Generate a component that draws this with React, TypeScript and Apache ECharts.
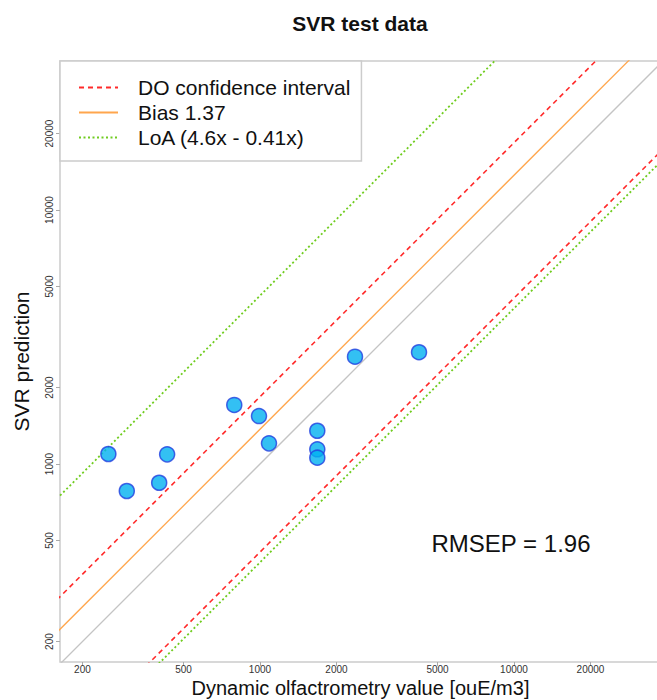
import React, { useEffect, useRef } from "react";
import * as echarts from "echarts";

// Dynamic olfactometry (x) vs SVR prediction (y)
const doValues = [253, 299, 401, 431, 792, 991, 1085, 1681, 1681, 1681, 2366, 4227];
const svrValues = [1095, 783, 844, 1092, 1708, 1545, 1206, 1352, 1143, 1059, 2645, 2755];

const identitySlope = 1;
const biasSlope = 1.37;
const doUpperSlope = 1.84;
const doLowerSlope = 0.45;
const loaUpperSlope = 4.6;
const loaLowerSlope = 0.41;

const tickValues = [200, 500, 1000, 2000, 5000, 10000, 20000];
const lineXRange = [100, 100000];

const FONT = "'Liberation Sans', Arial, sans-serif";

function lineData(k: number) {
  return lineXRange.map((x) => [x, x * k]);
}

export default function App() {
  const ref = useRef<HTMLDivElement>(null);
  useEffect(() => {
    if (!ref.current) return;
    const chart = echarts.init(ref.current, null, { renderer: "svg" });
    const mkLine = (name: string, k: number, color: string, type: any, width: number) => ({
      type: "line",
      name,
      data: lineData(k),
      symbol: "none",
      showSymbol: false,
      clip: true,
      silent: true,
      lineStyle: { color, type, width },
      itemStyle: { color },
      z: 2,
    });
    chart.setOption({
      animation: false,
      backgroundColor: "#ffffff",
      textStyle: { fontFamily: FONT },
      grid: {
        left: 60,
        top: 61,
        right: -4,
        bottom: 38,
        show: true,
        borderColor: "#cccccc",
        borderWidth: 1.5,
        containLabel: false,
        outerBoundsMode: "none",
      },
      legend: {
        left: 60,
        top: 61,
        orient: "vertical",
        data: ["DO confidence interval", "Bias 1.37", "LoA (4.6x - 0.41x)"],
        itemWidth: 39,
        itemHeight: 14,
        itemGap: 0,
        padding: [14, 11, 11, 18],
        borderColor: "#cccccc",
        borderWidth: 1.5,
        backgroundColor: "#ffffff",
        itemStyle: { opacity: 0 },
        textStyle: { fontSize: 21, color: "#111111", lineHeight: 25, padding: [0, 0, 0, 15], fontFamily: FONT },
      },
      xAxis: {
        type: "log",
        min: 163.2,
        max: 37900,
        name: "Dynamic olfactrometry value [ouE/m3]",
        nameLocation: "middle",
        nameGap: 16,
        nameMoveOverlap: false,
        nameTextStyle: { fontSize: 20, color: "#111111", fontFamily: FONT },
        axisLine: { show: false },
        axisTick: { show: true, customValues: tickValues, length: 4, lineStyle: { color: "#aaaaaa" } },
        axisLabel: { customValues: tickValues, formatter: (v: number) => String(Math.round(v)), fontSize: 10, color: "#333333", margin: 2, fontFamily: FONT },
        splitLine: { show: false },
        minorTick: { show: false },
      },
      yAxis: {
        type: "log",
        min: 166.2,
        max: 38600,
        name: "SVR prediction",
        nameLocation: "middle",
        nameGap: 28,
        nameMoveOverlap: false,
        nameTextStyle: { fontSize: 21, color: "#111111", fontFamily: FONT },
        axisLine: { show: false },
        axisTick: { show: true, customValues: tickValues, length: 4, lineStyle: { color: "#aaaaaa" } },
        axisLabel: {
          customValues: tickValues,
          formatter: (v: number) => String(Math.round(v)),
          fontSize: 10,
          color: "#333333",
          margin: 6,
          rotate: 90,
          align: "center",
          verticalAlign: "bottom",
          fontFamily: FONT,
        },
        splitLine: { show: false },
        minorTick: { show: false },
      },
      series: [
        mkLine("identity", identitySlope, "#c4c4c4", "solid", 1.3),
        mkLine("Bias 1.37", biasSlope, "#ffa64d", "solid", 1.3),
        mkLine("DO confidence interval", doUpperSlope, "#ff2a2a", [5, 4], 1.6),
        mkLine("DO confidence interval", doLowerSlope, "#ff2a2a", [5, 4], 1.6),
        mkLine("LoA (4.6x - 0.41x)", loaUpperSlope, "#70cc20", [2, 2.5], 1.8),
        mkLine("LoA (4.6x - 0.41x)", loaLowerSlope, "#70cc20", [2, 2.5], 1.8),
        {
          type: "scatter",
          name: "points",
          data: doValues.map((x, i) => [x, svrValues[i]]),
          symbol: "circle",
          symbolSize: 15,
          itemStyle: { color: "#00b0f0", borderColor: "#1f3fe0", borderWidth: 1.5 },
          z: 5,
        },
      ],
      graphic: [
        {
          type: "text",
          x: 360,
          y: 23,
          style: { text: "SVR test data", fontSize: 21, fontWeight: "bold", fill: "#111111", textAlign: "center", textVerticalAlign: "middle", fontFamily: FONT },
        },
        {
          type: "text",
          x: 511,
          y: 543,
          style: { text: "RMSEP = 1.96", fontSize: 24, fill: "#111111", textAlign: "center", textVerticalAlign: "middle", fontFamily: FONT },
        },
      ],
    });
    return () => chart.dispose();
  }, []);
  return <div ref={ref} style={{ position: "fixed", left: 0, top: 0, width: 657, height: 700 }} />;
}
